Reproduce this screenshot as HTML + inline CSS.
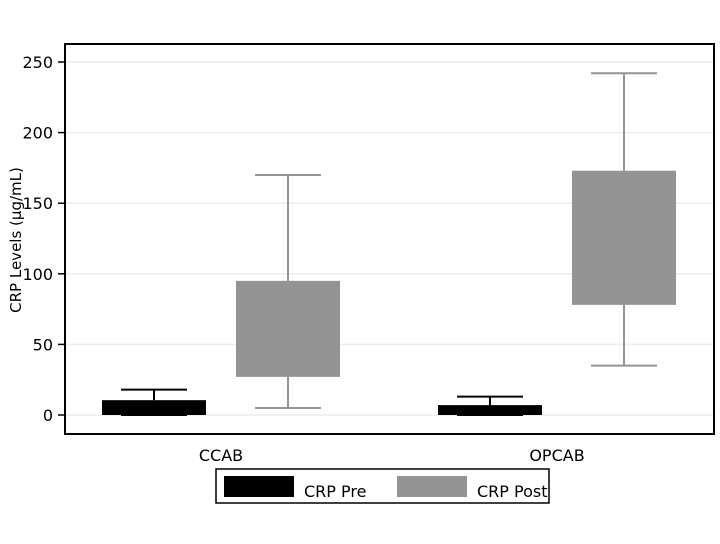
<!DOCTYPE html>
<html><head><meta charset="utf-8"><style>
body{margin:0;background:#fff;font-family:"DejaVu Sans","Liberation Sans",sans-serif;}
</style></head><body>
<svg width="720" height="540" xmlns="http://www.w3.org/2000/svg" id="chart">
<rect x="0" y="0" width="720" height="540" fill="#fff"/>
<g id="grid"></g>
<g id="marks"></g>
<rect x="65" y="44" width="649" height="390" fill="none" stroke="#000" stroke-width="2"/>
<g id="axis" font-size="16" fill="#000"></g>
<text transform="translate(21,240) rotate(-90)" text-anchor="middle" font-size="15">CRP Levels (μg/mL)</text>
<g>
<rect x="216" y="469" width="333" height="34" fill="#fff" stroke="#000" stroke-width="1.5"/>
<rect x="224" y="476" width="70" height="21" fill="#000"/>
<text x="304" y="497" font-size="16">CRP Pre</text>
<rect x="397" y="476" width="70" height="21" fill="#949494"/>
<text x="477" y="497" font-size="16">CRP Post</text>
</g>
</svg>
<script>
const categories=["CCAB","OPCAB"];
const preLow=[0,0], preQ1=[0,0], preQ3=[10.5,7], preHigh=[18,13];
const postLow=[5,35], postQ1=[27,78], postQ3=[95,173], postHigh=[170,242];
const yTicks=[0,50,100,150,200,250];
const NS="http://www.w3.org/2000/svg";
const y=v=>415-v*1.412;
const catX=i=>221+i*336;
function mk(t,a,p){const e=document.createElementNS(NS,t);for(const k in a)e.setAttribute(k,a[k]);p.appendChild(e);return e;}
const grid=document.getElementById('grid'),axis=document.getElementById('axis'),marks=document.getElementById('marks');
yTicks.forEach(v=>{
 const g=mk('line',{x1:65,x2:714,y1:y(v),y2:y(v),stroke:'#e6eef0','stroke-width':1.5},grid);
 
 
 const tk=mk('line',{x1:58,x2:65,y1:y(v),y2:y(v),stroke:'#000','stroke-width':1.5},axis);
 
 
 const t=mk('text',{x:53,y:y(v)+6,'text-anchor':'end'},axis);t.textContent=v;
 
 
});
categories.forEach((c,i)=>{
 const t=mk('text',{x:catX(i),y:461,'text-anchor':'middle'},axis);t.textContent=c;
 
 
 [[-67,preLow,preQ1,preQ3,preHigh,'#000','pre'],[67,postLow,postQ1,postQ3,postHigh,'#949494','post']].forEach(s=>{
  const cx=catX(i)+s[0],col=s[5];
  const g=mk('g',{},marks);
  
  
  mk('line',{x1:cx,x2:cx,y1:y(s[4][i]),y2:y(s[3][i]),stroke:col,'stroke-width':2},g);
  mk('line',{x1:cx,x2:cx,y1:y(s[2][i]),y2:y(s[1][i]),stroke:col,'stroke-width':2},g);
  mk('line',{x1:cx-33,x2:cx+33,y1:y(s[4][i]),y2:y(s[4][i]),stroke:col,'stroke-width':2},g);
  mk('line',{x1:cx-33,x2:cx+33,y1:y(s[1][i]),y2:y(s[1][i]),stroke:col,'stroke-width':2},g);
  mk('rect',{x:cx-52,width:104,y:y(s[3][i]),height:Math.max(y(s[2][i])-y(s[3][i]),0),fill:col},g);
 });
});
</script>
</body></html>
